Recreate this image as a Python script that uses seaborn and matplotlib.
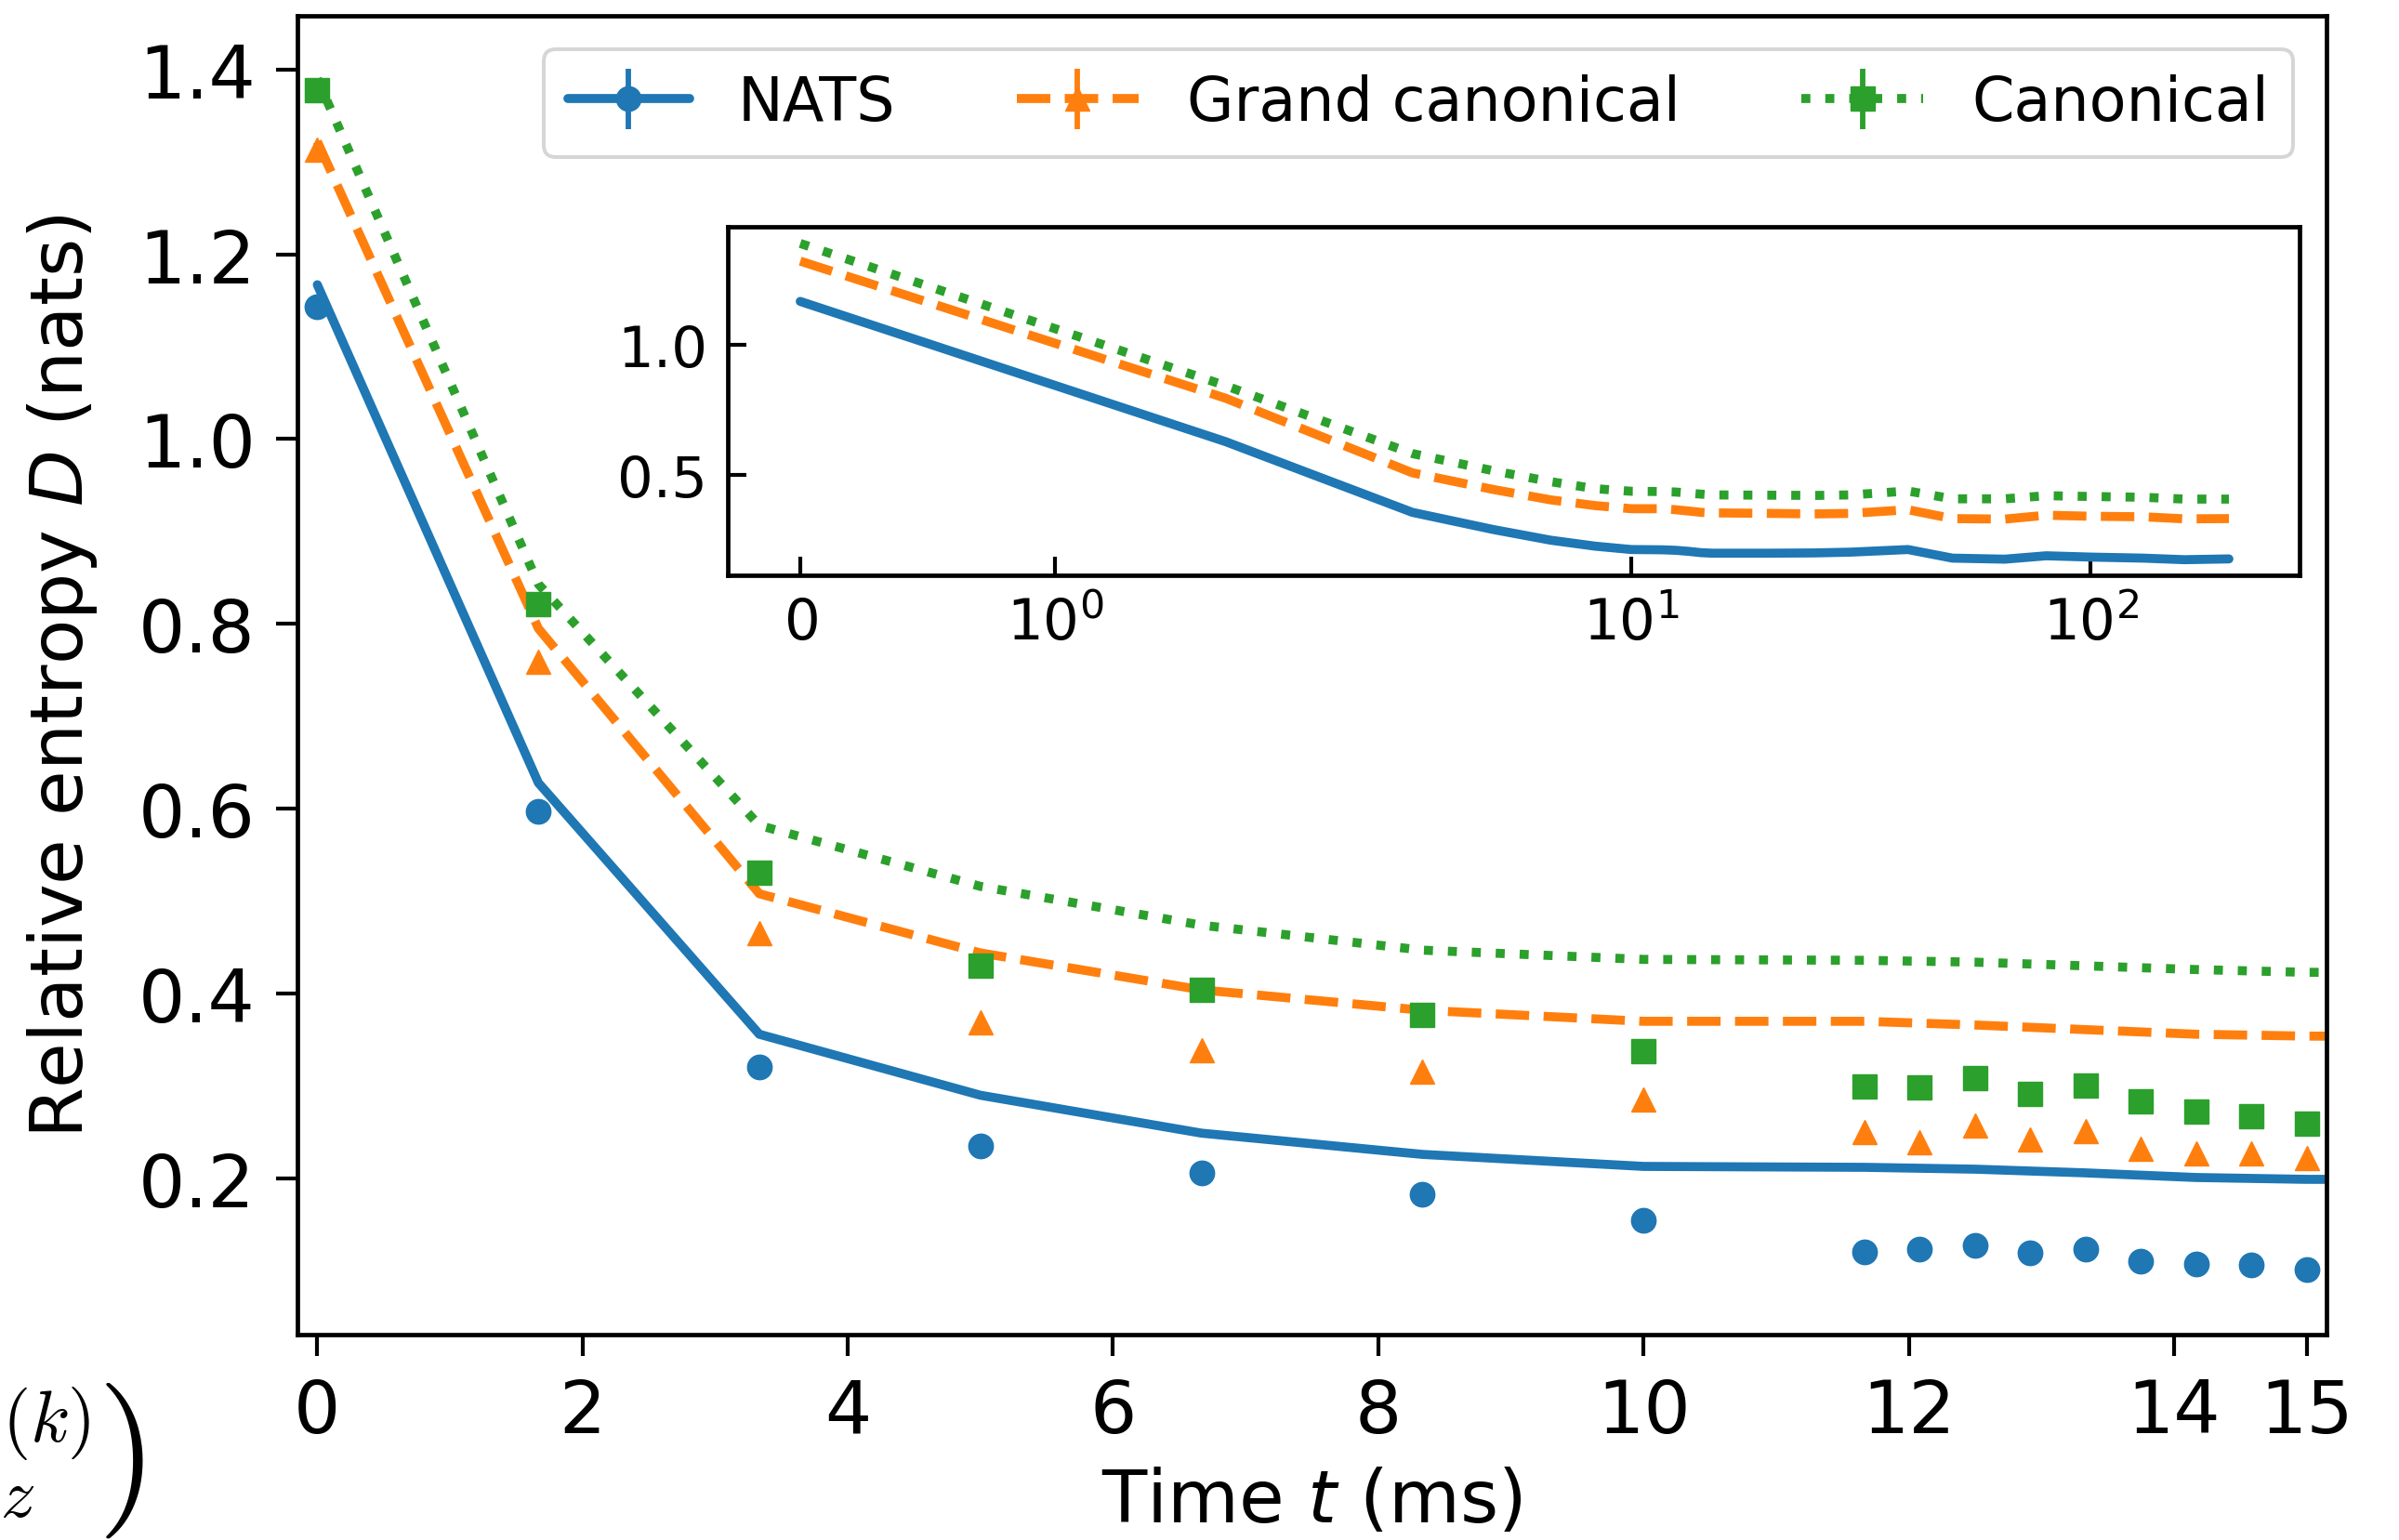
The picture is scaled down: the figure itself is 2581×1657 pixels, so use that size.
import matplotlib
matplotlib.use("Agg")
import matplotlib.pyplot as plt
import seaborn as sns
from matplotlib.lines import Line2D

# ---------------- data ----------------
t_theory = [0, 1.667, 3.333, 5.0, 6.667, 8.333, 10.0, 11.667, 12.5, 13.333, 14.167, 15.0,
            20, 25, 30, 40, 50, 65, 80, 100, 130, 160, 200]
nats_theory = [1.167, 0.628, 0.356, 0.290, 0.249, 0.226, 0.213, 0.212, 0.210, 0.206, 0.201, 0.199,
               0.199, 0.200, 0.203, 0.213, 0.180, 0.176, 0.189, 0.184, 0.180, 0.174, 0.177]
gc_theory = [1.322, 0.795, 0.508, 0.444, 0.404, 0.382, 0.370, 0.370, 0.366, 0.361, 0.356, 0.354,
             0.352, 0.350, 0.352, 0.366, 0.332, 0.330, 0.345, 0.341, 0.339, 0.331, 0.332]
can_theory = [1.390, 0.843, 0.582, 0.516, 0.474, 0.447, 0.437, 0.436, 0.434, 0.430, 0.426, 0.423,
              0.422, 0.421, 0.423, 0.438, 0.408, 0.408, 0.420, 0.417, 0.414, 0.407, 0.407]

t_exp = [0, 1.667, 3.333, 5.0, 6.667, 8.333, 10.0, 11.667, 12.083, 12.5, 12.917,
         13.333, 13.75, 14.167, 14.583, 15.0]
nats_exp = [1.143, 0.597, 0.321, 0.235, 0.206, 0.183, 0.155, 0.121, 0.124, 0.128, 0.119,
            0.124, 0.110, 0.107, 0.106, 0.101]
gc_exp = [1.313, 0.759, 0.465, 0.369, 0.339, 0.316, 0.285, 0.250, 0.239, 0.257, 0.242,
          0.251, 0.232, 0.227, 0.227, 0.222]
can_exp = [1.378, 0.821, 0.531, 0.430, 0.404, 0.377, 0.338, 0.300, 0.299, 0.309, 0.291,
           0.301, 0.283, 0.272, 0.267, 0.259]
err_exp = [0.004] * 16

labels = ["NATS", "Grand canonical", "Canonical"]
xticks_main = [0, 2, 4, 6, 8, 10, 12, 14, 15]
yticks_main = [0.2, 0.4, 0.6, 0.8, 1.0, 1.2, 1.4]
yticks_inset = [0.5, 1.0]

# ---------------- style ----------------
sns.set_style("ticks")
plt.rcParams.update({
    "font.family": ["DejaVu Sans"],
    "axes.edgecolor": "black",
    "text.color": "black",
    "axes.labelcolor": "black",
    "xtick.color": "black",
    "ytick.color": "black",
    "axes.linewidth": 3.4,
    "patch.linewidth": 2.9,
    "mathtext.fontset": "dejavusans",
})

W, H = 2581, 1658
fig = plt.figure(figsize=(W / 100, H / 100), dpi=100)

main_fs = 57
legend_fs = 47
inset_fs = 44
lw = 7.0
ms = 19

colors = ["#1f77b4", "#ff7f0e", "#2ca02c"]
styles = ["-", "--", ":"]
markers = ["o", "^", "s"]
theory = [nats_theory, gc_theory, can_theory]
exps = [nats_exp, gc_exp, can_exp]

ax = fig.add_axes([320 / W, (H - 1437) / H, (2503 - 320) / W, (1437 - 18) / H])

handles = []
for c, ls, mk, th, ex, lab in zip(colors, styles, markers, theory, exps, labels):
    sns.lineplot(x=t_theory, y=th, ax=ax, color=c, linestyle=ls, linewidth=lw,
                 legend=False, sort=False)
    eb = ax.errorbar(t_exp, ex, yerr=err_exp, fmt=mk, color=c, ms=ms,
                     elinewidth=lw * 0.6, capsize=0, linestyle="none")
    proxy = Line2D([], [], color=c, linestyle=ls, linewidth=lw)
    handles.append((proxy, eb))

ax.set_xlim(-0.15, 15.15)
ax.set_ylim(0.031, 1.458)
ax.set_xticks(xticks_main)
ax.set_yticks(yticks_main)
ax.tick_params(axis="both", which="major", labelsize=main_fs, length=16.5, width=3.0,
               pad=16, direction="out")
ax.set_xlabel("Time $t$ (ms)", fontsize=main_fs, labelpad=14)
ax.set_ylabel("Relative entropy $D$ (nats)", fontsize=main_fs, labelpad=30)

leg = ax.legend(handles, labels, loc="upper right", ncol=3, fontsize=legend_fs,
                frameon=True, borderaxespad=0.55)
leg.get_frame().set_linewidth(2.9)

# ---------------- inset ----------------
axin = fig.add_axes([783 / W, (H - 620) / H, (2474 - 783) / W, (620 - 245) / H])
for c, ls, th in zip(colors, styles, theory):
    sns.lineplot(x=t_theory, y=th, ax=axin, color=c, linestyle=ls, linewidth=lw,
                 legend=False, sort=False)
axin.set_xscale("symlog", linthresh=2)
axin.set_xlim(-0.284, 285)
axin.set_ylim(0.114, 1.454)
axin.set_yticks(yticks_inset)
axin.set_xlabel("")
axin.set_ylabel("")
axin.tick_params(axis="both", which="major", labelsize=inset_fs, length=14.4, width=3.0,
                 pad=16, direction="in")
axin.tick_params(axis="both", which="minor", length=0)

# ---------------- cropped equation fragment (bottom-left) ----------------
fig.text(2 / W, 1 - 1532 / H, r"$(k)$", fontsize=56, math_fontfamily="cm",
         ha="left", va="center")
fig.text(0 / W, 1 - 1612 / H, r"$z$", fontsize=54, math_fontfamily="cm",
         ha="left", va="center")
fig.text(104 / W, 1 - 1572 / H, r"$)$", fontsize=120, math_fontfamily="cm",
         ha="left", va="center")

fig.savefig("out.png", dpi=100)
